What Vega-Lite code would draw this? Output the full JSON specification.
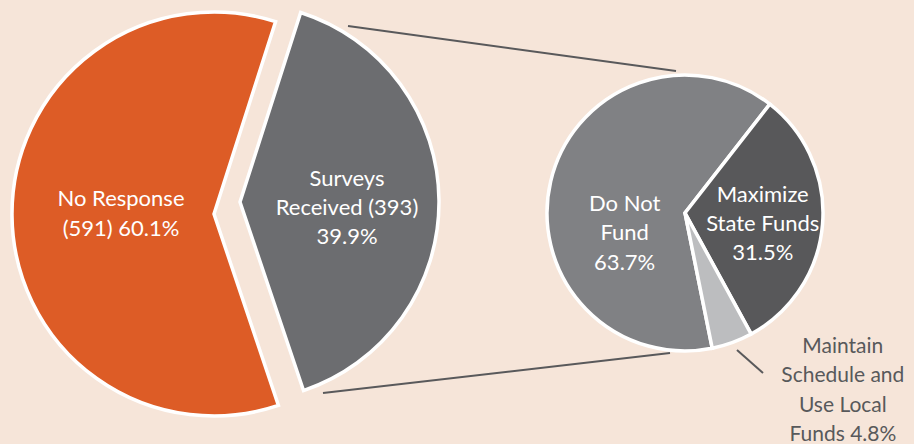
{
  "$schema": "https://vega.github.io/schema/vega-lite/v6.json",
  "width": 914,
  "height": 428,
  "autosize": {"type": "none"},
  "padding": {"left": 0, "right": 0, "top": 0, "bottom": 16},
  "background": "#f6e5d9",
  "config": {"view": {"stroke": null}, "font": "Lato"},
  "datasets": {
    "overall": [
      {"pie": "All surveys", "category": "No Response", "count": 591, "pct": 60.1, "label": "No Response\n(591) 60.1%"},
      {"pie": "All surveys", "category": "Surveys Received", "count": 393, "pct": 39.9, "label": "Surveys\nReceived (393)\n39.9%"}
    ],
    "received": [
      {"pie": "Received", "category": "Do Not Fund", "pct": 63.7, "label": "Do Not\nFund\n63.7%"},
      {"pie": "Received", "category": "Maximize State Funds", "pct": 31.5, "label": "Maximize\nState Funds\n31.5%"},
      {"pie": "Received", "category": "Maintain Schedule and Use Local Funds", "pct": 4.8, "label": "Maintain\nSchedule and\nUse Local\nFunds 4.8%"}
    ],
    "connectors": [
      {"link": "upper", "from_x": 348, "from_y": 26, "to_x": 676, "to_y": 71},
      {"link": "lower", "from_x": 323, "from_y": 393, "to_x": 670, "to_y": 353},
      {"link": "leader", "from_x": 737, "from_y": 350, "to_x": 763, "to_y": 373}
    ]
  },
  "resolve": {"scale": {"x": "independent", "y": "independent", "theta": "independent"}},
  "layer": [
    {
      "data": {"name": "connectors"},
      "mark": {"type": "rule", "stroke": "#59595b", "strokeWidth": 2},
      "encoding": {
        "x": {"field": "from_x", "type": "quantitative", "scale": {"domain": [0, 914], "nice": false, "zero": false}, "axis": null},
        "x2": {"field": "to_x"},
        "y": {"field": "from_y", "type": "quantitative", "scale": {"domain": [0, 428], "nice": false, "zero": false, "reverse": true}, "axis": null},
        "y2": {"field": "to_y"}
      }
    },
    {
      "data": {"name": "overall"},
      "encoding": {
        "x": {"field": "pie", "type": "nominal", "scale": {"type": "point", "domain": ["All surveys", "Received"], "range": [214, 685], "padding": 0}, "axis": null},
        "theta": {"field": "pct", "type": "quantitative", "stack": true, "scale": {"domain": [0, 100], "range": [2.817, 9.100]}},
        "order": {"field": "pct", "sort": "descending"}
      },
      "layer": [
        {
          "mark": {"type": "arc", "radius": 202, "stroke": "white", "strokeWidth": 3.5},
          "encoding": {
            "color": {"field": "category", "type": "nominal", "legend": null,
              "scale": {"domain": ["No Response", "Surveys Received", "Do Not Fund", "Maximize State Funds", "Maintain Schedule and Use Local Funds"],
                        "range": ["#dd5c26", "#6c6d70", "#808184", "#58585a", "#bcbdbf"]}},
            "opacity": {"condition": {"test": "datum.category === 'No Response'", "value": 1}, "value": 0}
          }
        },
        {
          "mark": {"type": "arc", "radius": 199, "stroke": "white", "strokeWidth": 3.5, "xOffset": 26, "yOffset": -12},
          "encoding": {
            "color": {"field": "category", "type": "nominal", "legend": null,
              "scale": {"domain": ["No Response", "Surveys Received", "Do Not Fund", "Maximize State Funds", "Maintain Schedule and Use Local Funds"],
                        "range": ["#dd5c26", "#6c6d70", "#808184", "#58585a", "#bcbdbf"]}},
            "opacity": {"condition": {"test": "datum.category === 'Surveys Received'", "value": 1}, "value": 0}
          }
        },
        {
          "mark": {"type": "text", "radius": 93, "dy": -16, "fontSize": 22, "lineBreak": "\n", "lineHeight": 30, "fill": "white", "align": "center", "baseline": "middle"},
          "encoding": {
            "text": {"condition": {"test": "datum.category === 'No Response'", "field": "label"}, "value": ""}
          }
        },
        {
          "mark": {"type": "text", "radius": 107, "xOffset": 26, "yOffset": -12, "dy": -22, "fontSize": 22, "lineBreak": "\n", "lineHeight": 29, "fill": "white", "align": "center", "baseline": "middle"},
          "encoding": {
            "text": {"condition": {"test": "datum.category === 'Surveys Received'", "field": "label"}, "value": ""}
          }
        }
      ]
    },
    {
      "data": {"name": "received"},
      "encoding": {
        "x": {"field": "pie", "type": "nominal", "scale": {"type": "point", "domain": ["All surveys", "Received"], "range": [214, 685], "padding": 0}, "axis": null},
        "theta": {"field": "pct", "type": "quantitative", "stack": true, "scale": {"domain": [0, 100], "range": [2.943, 9.226]}},
        "order": {"field": "pct", "sort": "descending"}
      },
      "layer": [
        {
          "mark": {"type": "arc", "radius": 138, "stroke": "white", "strokeWidth": 3.5, "yOffset": -1},
          "encoding": {
            "color": {"field": "category", "type": "nominal", "legend": null,
              "scale": {"domain": ["No Response", "Surveys Received", "Do Not Fund", "Maximize State Funds", "Maintain Schedule and Use Local Funds"],
                        "range": ["#dd5c26", "#6c6d70", "#808184", "#58585a", "#bcbdbf"]}}
          }
        },
        {
          "mark": {"type": "text", "radius": 62, "dy": 4, "fontSize": 22, "lineBreak": "\n", "lineHeight": 29.5, "fill": "white", "align": "center", "baseline": "middle"},
          "encoding": {
            "text": {"condition": {"test": "datum.category === 'Do Not Fund'", "field": "label"}, "value": ""}
          }
        },
        {
          "mark": {"type": "text", "radius": 78, "dy": -25, "fontSize": 22, "lineBreak": "\n", "lineHeight": 29, "fill": "white", "align": "center", "baseline": "middle"},
          "encoding": {
            "text": {"condition": {"test": "datum.category === 'Maximize State Funds'", "field": "label"}, "value": ""}
          }
        },
        {
          "mark": {"type": "text", "radius": 236, "dx": 77, "dy": -89, "fontSize": 21, "lineBreak": "\n", "lineHeight": 29.5, "fill": "#58595b", "align": "center", "baseline": "middle"},
          "encoding": {
            "text": {"condition": {"test": "datum.category === 'Maintain Schedule and Use Local Funds'", "field": "label"}, "value": ""}
          }
        }
      ]
    }
  ]
}
